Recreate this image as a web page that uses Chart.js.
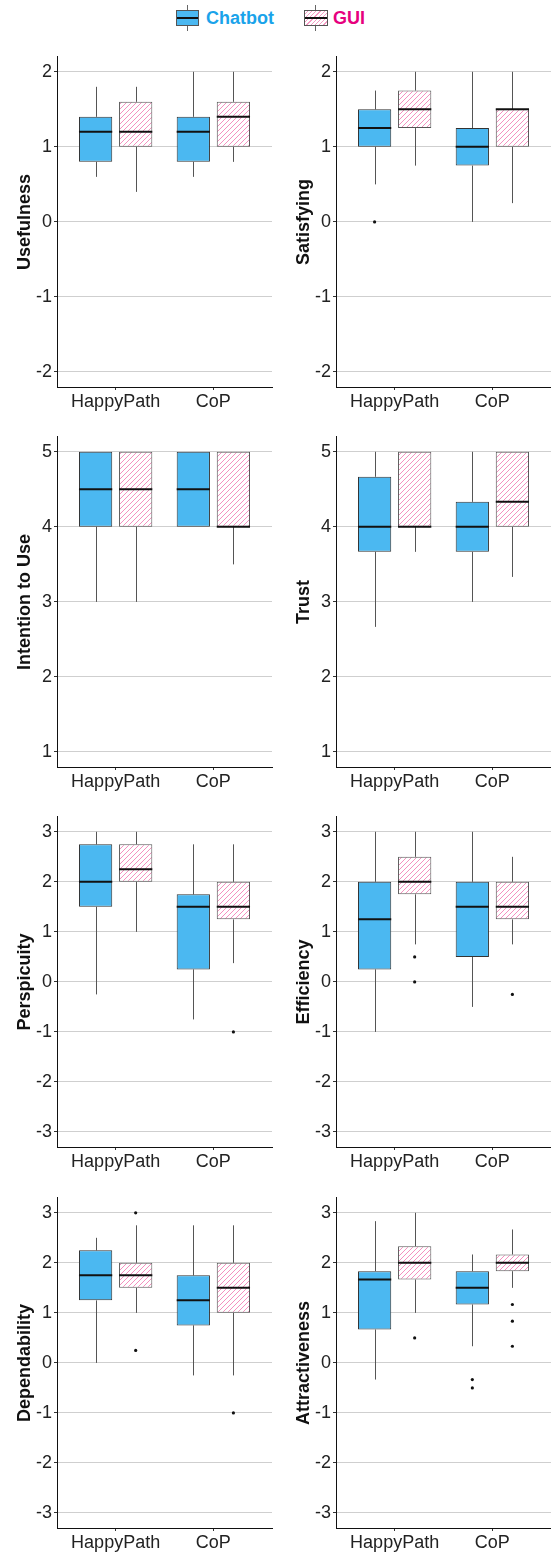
<!DOCTYPE html>
<html>
<head>
<meta charset="utf-8">
<script src="https://cdn.jsdelivr.net/npm/chart.js@4.4.1/dist/chart.umd.min.js"></script>
<style>
  body { margin: 0; width: 551px; height: 1554px; background: #fff; position: relative; overflow: hidden; font-family: 'Liberation Sans', Arial, sans-serif; }
  canvas { position: absolute; }
  .key { position: absolute; top: 10px; width: 23px; height: 16px; box-sizing: border-box; border: 1px solid #555; }
  .key i { position: absolute; left: 0; right: 0; top: 5.5px; height: 2px; background: #111; }
  .key::before, .key::after { content: ''; position: absolute; left: 10px; width: 1px; height: 5px; background: #666; }
  .key::before { top: -6px; }
  .key::after { bottom: -6px; }
  .chat { left: 176px; background: #4bb8f1; }
  .gui { left: 304px; width: 24px; background: repeating-linear-gradient(-45deg, #fff 0 2px, #f59cc4 2px 3px); }
  .lab { position: absolute; top: 7px; font-weight: bold; font-size: 18px; line-height: 22px; }
</style>
</head>
<body>
<div class="key chat"><i></i></div><span class="lab" style="left:206px;color:#1aa3ea">Chatbot</span>
<div class="key gui"><i></i></div><span class="lab" style="left:333px;color:#e6007e">GUI</span>

<script>
Chart.defaults.font.family = "'Liberation Sans', Arial, sans-serif"
Chart.defaults.color = '#222'

const groups = ['HappyPath', 'CoP']
const seriesNames = ['Chatbot', 'GUI']

// [low whisker, Q1, median, Q3, high whisker] for HappyPath, CoP
const usefulnessChatbot = [[0.6, 0.8, 1.2, 1.4, 1.8], [0.6, 0.8, 1.2, 1.4, 2.0]]
const usefulnessGUI = [[0.4, 1.0, 1.2, 1.6, 1.8], [0.8, 1.0, 1.4, 1.6, 2.0]]
const satisfyingChatbot = [[0.5, 1.0, 1.25, 1.5, 1.75], [0, 0.75, 1.0, 1.25, 2.0]]
const satisfyingGUI = [[0.75, 1.25, 1.5, 1.75, 2.0], [0.25, 1.0, 1.5, 1.5, 2.0]]
const intentionChatbot = [[3, 4, 4.5, 5, 5], [4, 4, 4.5, 5, 5]]
const intentionGUI = [[3, 4, 4.5, 5, 5], [3.5, 4, 4, 5, 5]]
const trustChatbot = [[2.667, 3.667, 4, 4.667, 5], [3, 3.667, 4, 4.333, 5]]
const trustGUI = [[3.667, 4, 4, 5, 5], [3.333, 4, 4.333, 5, 5]]
const perspicuityChatbot = [[-0.25, 1.5, 2, 2.75, 3], [-0.75, 0.25, 1.5, 1.75, 2.75]]
const perspicuityGUI = [[1, 2, 2.25, 2.75, 3], [0.375, 1.25, 1.5, 2, 2.75]]
const efficiencyChatbot = [[-1, 0.25, 1.25, 2, 3], [-0.5, 0.5, 1.5, 2, 3]]
const efficiencyGUI = [[0.75, 1.75, 2, 2.5, 3], [0.75, 1.25, 1.5, 2, 2.5]]
const dependabilityChatbot = [[0, 1.25, 1.75, 2.25, 2.5], [-0.25, 0.75, 1.25, 1.75, 2.75]]
const dependabilityGUI = [[1, 1.5, 1.75, 2, 2.75], [-0.25, 1, 1.5, 2, 2.75]]
const attractivenessChatbot = [[-0.333, 0.667, 1.667, 1.833, 2.833], [0.333, 1.167, 1.5, 1.833, 2.167]]
const attractivenessGUI = [[1, 1.667, 2, 2.333, 3], [1.5, 1.833, 2, 2.167, 2.667]]

// outliers for HappyPath, CoP
const noOutliers = [[], []]
const satisfyingChatbotOut = [[0], []]
const perspicuityGUIOut = [[], [-1]]
const efficiencyGUIOut = [[0.5, 0], [-0.25]]
const dependabilityGUIOut = [[3, 0.25], [-1]]
const attractivenessChatbotOut = [[], [-0.333, -0.5]]
const attractivenessGUIOut = [[0.5], [1.167, 0.833, 0.333]]

const ticksUseful = [-2, -1, 0, 1, 2]
const ticksFive = [1, 2, 3, 4, 5]
const ticksSeven = [-3, -2, -1, 0, 1, 2, 3]


const panels = [
    ['Usefulness', usefulnessChatbot, usefulnessGUI, noOutliers, noOutliers, ticksUseful],
    ['Satisfying', satisfyingChatbot, satisfyingGUI, satisfyingChatbotOut, noOutliers, ticksUseful],
    ['Intention to Use', intentionChatbot, intentionGUI, noOutliers, noOutliers, ticksFive],
    ['Trust', trustChatbot, trustGUI, noOutliers, noOutliers, ticksFive],
    ['Perspicuity', perspicuityChatbot, perspicuityGUI, noOutliers, perspicuityGUIOut, ticksSeven],
    ['Efficiency', efficiencyChatbot, efficiencyGUI, noOutliers, efficiencyGUIOut, ticksSeven],
    ['Dependability', dependabilityChatbot, dependabilityGUI, noOutliers, dependabilityGUIOut, ticksSeven],
    ['Attractiveness', attractivenessChatbot, attractivenessGUI, attractivenessChatbotOut, attractivenessGUIOut, ticksSeven]
]

const rowTops = [44, 424, 804, 1185]


function hatchPattern() {
    const c = document.createElement('canvas')
    c.width = 5
    c.height = 5
    const g = c.getContext('2d')
    g.fillStyle = '#fff'
    g.fillRect(0, 0, 5, 5)
    g.strokeStyle = 'rgba(238, 90, 160, 0.75)'
    g.lineWidth = 0.9
    g.beginPath()
    g.moveTo(-1, 6); g.lineTo(6, -1)
    g.moveTo(-1, 1); g.lineTo(1, -1)
    g.moveTo(4, 6); g.lineTo(6, 4)
    g.stroke()
    return g.createPattern(c, 'repeat')
}


// whiskers under the boxes, medians and outlier dots on top
const boxParts = {
    id: 'boxParts',
    beforeDatasetsDraw(chart) {
        const ctx = chart.ctx
        const y = chart.scales.y
        ctx.save()
        ctx.strokeStyle = '#555'
        ctx.lineWidth = 1
        chart.data.datasets.forEach((ds, d) => {
            chart.getDatasetMeta(d).data.forEach((bar, i) => {
                const [lo, q1, , q3, hi] = ds.stats[i]
                const x = Math.round(bar.x) + 0.5
                ctx.beginPath()
                ctx.moveTo(x, y.getPixelForValue(hi))
                ctx.lineTo(x, y.getPixelForValue(q3))
                ctx.moveTo(x, y.getPixelForValue(q1))
                ctx.lineTo(x, y.getPixelForValue(lo))
                ctx.stroke()
            })
        })
        ctx.restore()
    },
    afterDatasetsDraw(chart) {
        const ctx = chart.ctx
        const y = chart.scales.y
        ctx.save()
        chart.data.datasets.forEach((ds, d) => {
            chart.getDatasetMeta(d).data.forEach((bar, i) => {
                const med = y.getPixelForValue(ds.stats[i][2])
                ctx.strokeStyle = '#111'
                ctx.lineWidth = 2
                ctx.beginPath()
                ctx.moveTo(bar.x - bar.width / 2, med)
                ctx.lineTo(bar.x + bar.width / 2, med)
                ctx.stroke()
                ctx.fillStyle = '#111'
                ds.outliers[i].forEach(v => {
                    ctx.beginPath()
                    ctx.arc(bar.x, y.getPixelForValue(v), 1.6, 0, Math.PI * 2)
                    ctx.fill()
                })
            })
        })
        ctx.restore()
    }
}


function boxChart(k, name, chatbot, gui, chatbotOut, guiOut, tickVals) {

    const col = k % 2
    const canvas = document.createElement('canvas')
    canvas.width = col ? 276 : 275
    canvas.height = 370
    canvas.style.left = (col ? 275 : 0) + 'px'
    canvas.style.top = rowTops[Math.floor(k / 2)] + 'px'
    document.body.appendChild(canvas)

    const span = tickVals[tickVals.length - 1] - tickVals[0]

    const data = {
        datasets: [
            {
                label: seriesNames[0],
                data: chatbot.map((s, i) => ({ x: i + 1, y: [s[1], s[3]] })),
                stats: chatbot,
                outliers: chatbotOut,
                backgroundColor: '#4bb8f1',
                borderColor: '#333',
                borderWidth: 1,
                borderSkipped: false
            },
            {
                label: seriesNames[1],
                data: gui.map((s, i) => ({ x: i + 1, y: [s[1], s[3]] })),
                stats: gui,
                outliers: guiOut,
                backgroundColor: hatchPattern(),
                borderColor: '#555',
                borderWidth: 1,
                borderSkipped: false
            }
        ]
    }

    const options = {
        responsive: false,
        animation: false,
        categoryPercentage: 0.82,
        barPercentage: 0.83,
        layout: { padding: { top: 10, right: col ? 0 : 3, bottom: 0, left: 0 } },
        plugins: {
            legend: { display: false },
            tooltip: { enabled: false }
        },
        scales: {
            x: {
                type: 'linear',
                min: 0.4,
                max: 2.6,
                offset: false,
                afterBuildTicks: s => { s.ticks = groups.map((g, i) => ({ value: i + 1 })) },
                afterFit: s => { s.height = 27 },
                grid: { drawOnChartArea: false, offset: false, tickColor: '#333', tickLength: 3 },
                border: { display: true, color: '#111' },
                ticks: { callback: (v, i) => groups[i], padding: 1, color: '#222', font: { size: 18 }, maxRotation: 0, autoSkip: false }
            },
            y: {
                min: tickVals[0] - span * 0.05,
                max: tickVals[tickVals.length - 1] + span * 0.05,
                afterBuildTicks: s => { s.ticks = tickVals.map(v => ({ value: v })) },
                afterFit: s => { s.width = col ? 61 : 57 },
                grid: { color: '#cfcfcf', tickColor: '#333', tickLength: 3 },
                border: { display: true, color: '#111' },
                ticks: { callback: v => String(v), padding: 2, color: '#222', font: { size: 18 } },
                title: { display: true, text: name, color: '#111', font: { size: 18, weight: 'bold' }, padding: { top: col ? 18 : 14, bottom: 0 } }
            }
        }
    }

    new Chart(canvas, { type: 'bar', data, options, plugins: [boxParts] })
}


panels.forEach((p, k) => boxChart(k, ...p))
</script>
</body>
</html>
